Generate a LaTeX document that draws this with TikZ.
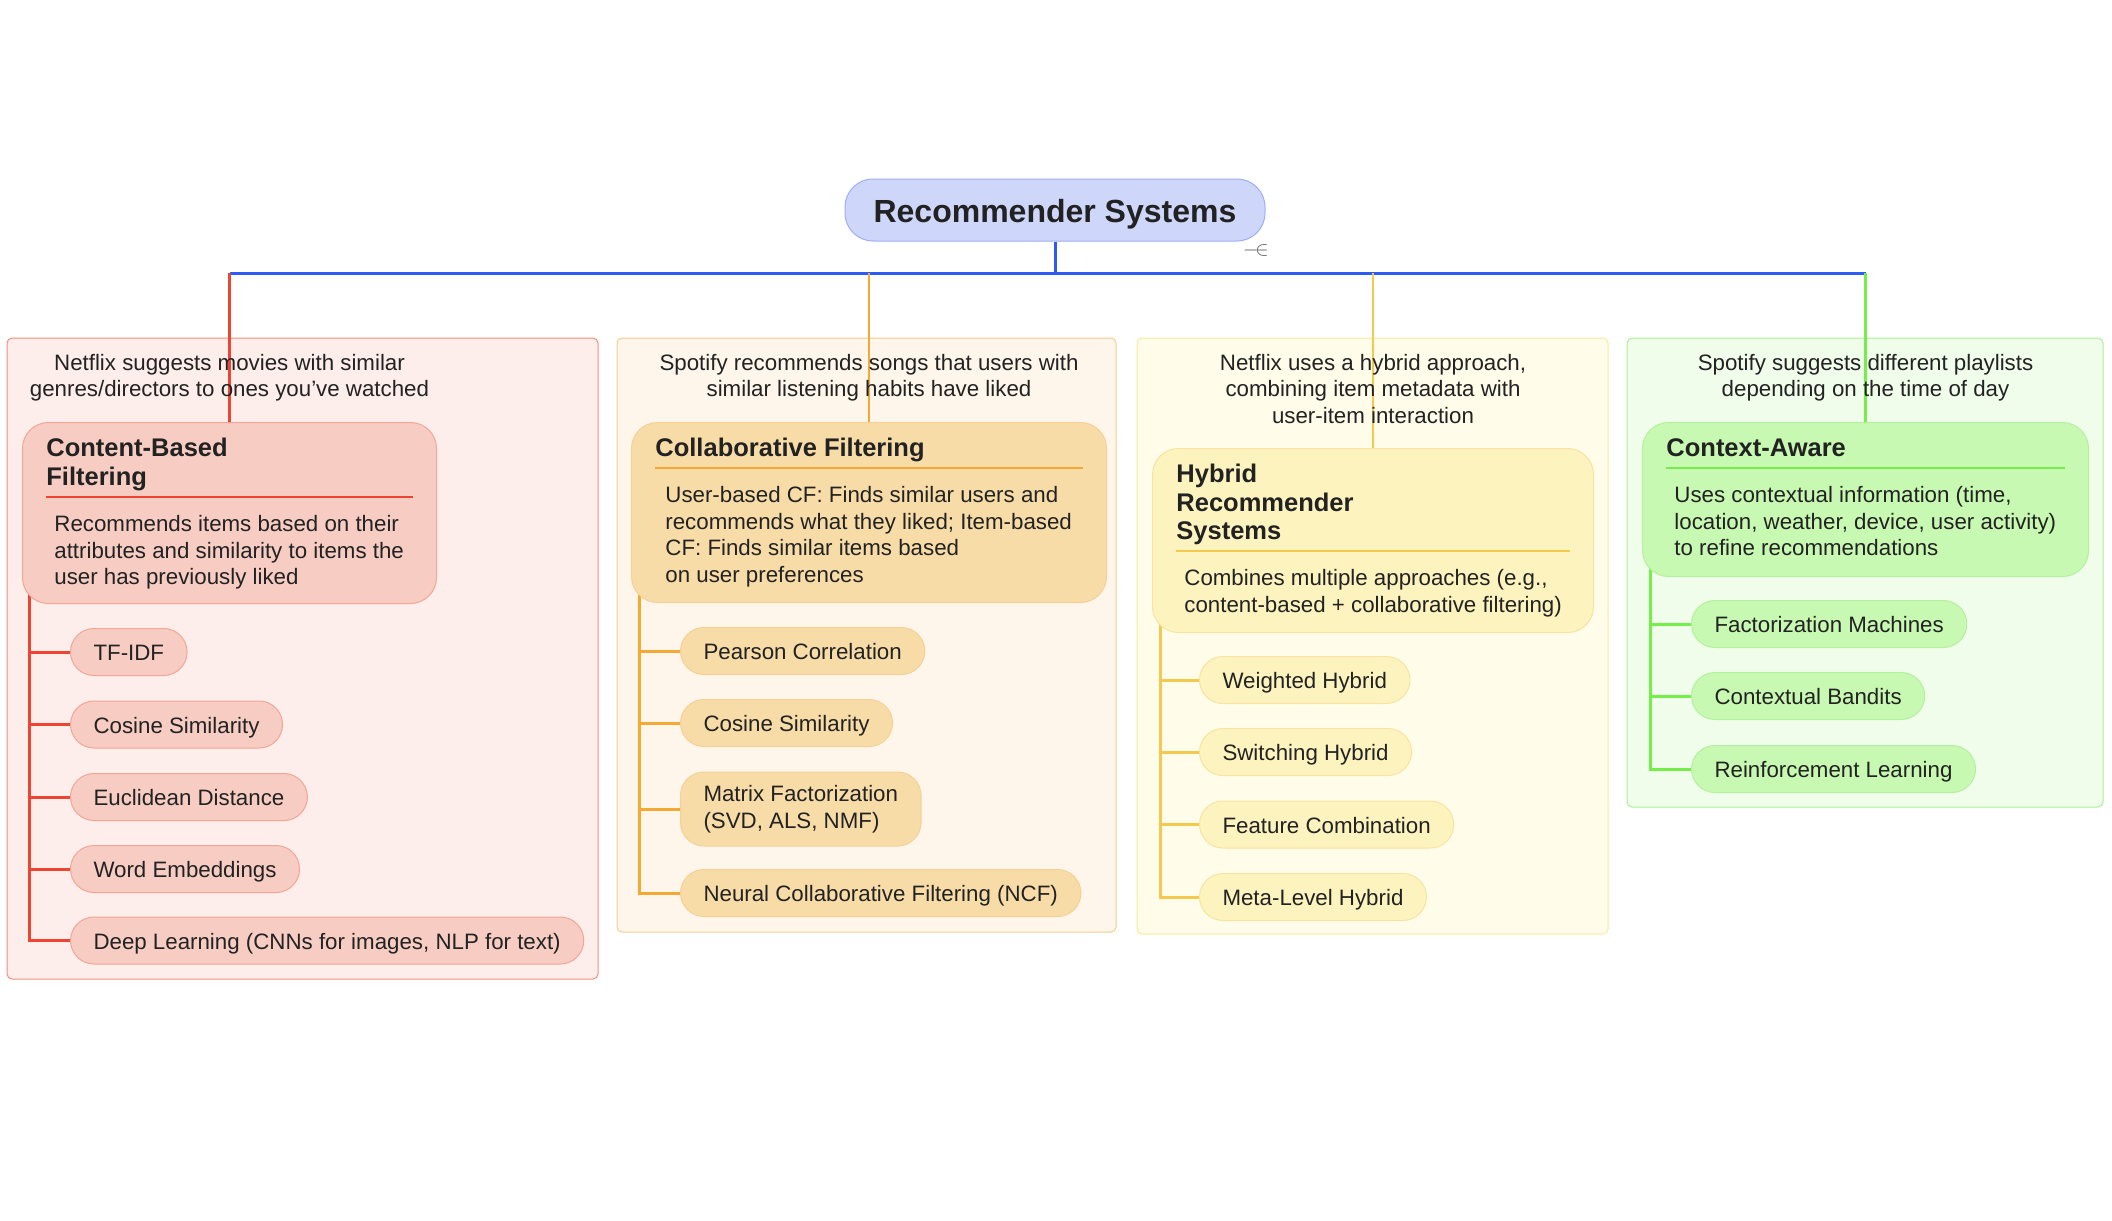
\documentclass[tikz,border=0pt]{standalone}
\usepackage{fontspec}
\setmainfont{Liberation Sans}
\usetikzlibrary{positioning}

\definecolor{ink}{HTML}{222222}
\definecolor{rootfill}{HTML}{CED7FA}
\definecolor{rootline}{HTML}{9DAEF5}
\definecolor{bluewire}{HTML}{2D5BF6}
\definecolor{redpanel}{HTML}{FDEEEB}
\definecolor{redpanelline}{HTML}{F2907E}
\definecolor{rednode}{HTML}{F7CDC3}
\definecolor{rednodeline}{HTML}{F4A595}
\definecolor{redwire}{HTML}{EE4530}
\definecolor{orangepanel}{HTML}{FEF6EA}
\definecolor{orangepanelline}{HTML}{F6CC8C}
\definecolor{orangenode}{HTML}{F8DCA8}
\definecolor{orangenodeline}{HTML}{F6D095}
\definecolor{orangewire}{HTML}{F5A832}
\definecolor{yellowpanel}{HTML}{FFFCEA}
\definecolor{yellowpanelline}{HTML}{FAE89C}
\definecolor{yellownode}{HTML}{FDF3BF}
\definecolor{yellownodeline}{HTML}{F8E4A0}
\definecolor{yellowwire}{HTML}{F5C84E}
\definecolor{greenpanel}{HTML}{F1FDEB}
\definecolor{greenpanelline}{HTML}{A9EF95}
\definecolor{greennode}{HTML}{C8F9B2}
\definecolor{greennodeline}{HTML}{B4F09E}
\definecolor{greenwire}{HTML}{74EE48}

\newcommand\txtbody{\fontsize{11.15pt}{13.3pt}\selectfont}
\newcommand\txttitle{\fontsize{12.75pt}{14.2pt}\selectfont\bfseries}
\newcommand\txtroot{\fontsize{16pt}{19pt}\selectfont\bfseries}

\pgfdeclarelayer{panel}
\pgfdeclarelayer{wire}
\pgfsetlayers{panel,wire,main}

\tikzset{
  panelbox/.style={draw=#1panelline, fill=#1panel, rounded corners=2.5pt, line width=0.5pt},
  catbox/.style={draw=#1nodeline, fill=#1node, rounded corners=13pt, line width=0.5pt, inner sep=0pt, anchor=north west},
  leafbox/.style={draw=#1nodeline, fill=#1node, rounded corners=11.75pt, line width=0.5pt,
    inner xsep=11.5pt, inner ysep=0pt, minimum height=23.5pt, anchor=west, align=left, font=\txtbody},
  oneline/.style={text height=10pt, text depth=1.4pt},
  wire/.style={draw=#1wire, line width=1.3pt},
  branch/.style={draw=#1wire, line width=1.5pt},
  sepline/.style={draw=#1wire, line width=0.9pt},
  note/.style={align=center, inner sep=0pt, font=\txtbody},
  cattitle/.style={anchor=north west, align=left, inner sep=0pt, font=\txttitle},
  catdesc/.style={anchor=north west, align=left, inner sep=0pt, font=\txtbody}
}

\begin{document}
\begin{tikzpicture}[x=0.5pt, y=-0.5pt, every node/.style={text=ink}]
	\useasboundingbox (0,0) rectangle (2112,1220);

	% Wurzel
	\node[draw=rootline, fill=rootfill, rounded corners=14pt, line width=0.5pt,
	  minimum width=210pt, minimum height=31pt, text height=12pt, text depth=0pt, font=\txtroot] (root) at (1055,210) {Recommender Systems};
	\node[text=black!65, inner sep=0pt, font=\fontsize{10pt}{11pt}\selectfont] (fold) at (1256,250) {$-\mkern-8mu\in$};
	\coordinate (hub) at (1055,273);

	% Kategorien
	\node[catbox=red, minimum width=207pt, minimum height=90.5pt] (cbf) at (22,422) {};
	\node[catbox=orange, minimum width=237.5pt, minimum height=90pt] (cf) at (631,422) {};
	\node[catbox=yellow, minimum width=220.5pt, minimum height=92pt] (hyb) at (1152,448) {};
	\node[catbox=green, minimum width=223pt, minimum height=77pt] (ctx) at (1642,422) {};

	% Titel
	\node[cattitle, below right=8pt and 12pt of cbf.north west] (cbft) {Content-Based\\Filtering};
	\node[cattitle, below right=8pt and 12pt of cf.north west] (cft) {Collaborative Filtering};
	\node[cattitle, below right=8pt and 12pt of hyb.north west] (hybt) {Hybrid\\Recommender\\Systems};
	\node[cattitle, below right=8pt and 12pt of ctx.north west] (ctxt) {Context-Aware};

	% Trennlinien
	\draw[sepline=red] ([xshift=12pt,yshift=-37.5pt]cbf.north west) -- ([xshift=-12pt,yshift=-37.5pt]cbf.north east);
	\draw[sepline=orange] ([xshift=12pt,yshift=-23pt]cf.north west) -- ([xshift=-12pt,yshift=-23pt]cf.north east);
	\draw[sepline=yellow] ([xshift=12pt,yshift=-51.5pt]hyb.north west) -- ([xshift=-12pt,yshift=-51.5pt]hyb.north east);
	\draw[sepline=green] ([xshift=12pt,yshift=-23pt]ctx.north west) -- ([xshift=-12pt,yshift=-23pt]ctx.north east);

	% Beschreibungen
	\node[catdesc, below right=46.5pt and 16pt of cbf.north west] (cbfd)
	  {Recommends items based on their\\attributes and similarity to items the\\user has previously liked};
	\node[catdesc, below right=32pt and 17pt of cf.north west] (cfd)
	  {User-based CF: Finds similar users and\\recommends what they liked; Item-based\\CF: Finds similar items based\\on user preferences};
	\node[catdesc, below right=60.5pt and 16pt of hyb.north west] (hybd)
	  {Combines multiple approaches (e.g.,\\content-based + collaborative filtering)};
	\node[catdesc, below right=32pt and 16pt of ctx.north west] (ctxd)
	  {Uses contextual information (time,\\location, weather, device, user activity)\\to refine recommendations};

	% Beispiele
	\node[note, above=10pt of cbf] (cbfn) {Netflix suggests movies with similar\\genres/directors to ones you’ve watched};
	\node[note, above=10pt of cf] (cfn) {Spotify recommends songs that users with\\similar listening habits have liked};
	\node[note, above=12pt of hyb] (hybn) {Netflix uses a hybrid approach,\\combining item metadata with\\user-item interaction};
	\node[note, above=10pt of ctx] (ctxn) {Spotify suggests different playlists\\depending on the time of day};

	% Blaetter
	\node[leafbox=red, oneline] (cb1) at (70,652) {TF-IDF};
	\node[leafbox=red, oneline] (cb2) at (70,724.5) {Cosine Similarity};
	\node[leafbox=red, oneline] (cb3) at (70,797) {Euclidean Distance};
	\node[leafbox=red, oneline] (cb4) at (70,869) {Word Embeddings};
	\node[leafbox=red, oneline] (cb5) at (70,940.5) {Deep Learning (CNNs for images, NLP for text)};

	\node[leafbox=orange, oneline] (cf1) at (680,651) {Pearson Correlation};
	\node[leafbox=orange, oneline] (cf2) at (680,723) {Cosine Similarity};
	\node[leafbox=orange, minimum height=37pt] (cf3) at (680,809) {Matrix Factorization\\(SVD, ALS, NMF)};
	\node[leafbox=orange, oneline] (cf4) at (680,893) {Neural Collaborative Filtering (NCF)};

	\node[leafbox=yellow, oneline] (hy1) at (1199,680) {Weighted Hybrid};
	\node[leafbox=yellow, oneline] (hy2) at (1199,752) {Switching Hybrid};
	\node[leafbox=yellow, oneline] (hy3) at (1199,824.5) {Feature Combination};
	\node[leafbox=yellow, oneline] (hy4) at (1199,897) {Meta-Level Hybrid};

	\node[leafbox=green, oneline] (cx1) at (1691,624) {Factorization Machines};
	\node[leafbox=green, oneline] (cx2) at (1691,696) {Contextual Bandits};
	\node[leafbox=green, oneline] (cx3) at (1691,769) {Reinforcement Learning};

	% Linien
	\begin{pgfonlayer}{wire}
		\draw[wire=blue, line width=1.5pt] (root) -- (hub);
		\draw[wire=blue, line width=1.5pt] (cbf.north |- hub) -- (ctx.north |- hub);
		\draw[wire=red] (cbf.north |- hub) -- (cbf.north);
		\draw[wire=orange] (cf.north |- hub) -- (cf.north);
		\draw[wire=yellow] (hyb.north |- hub) -- (hyb.north);
		\draw[wire=green] (ctx.north |- hub) -- (ctx.north);

		\coordinate (cbstem) at ([xshift=3.5pt,yshift=10pt]cbf.south west);
		\coordinate (cfstem) at ([xshift=4.25pt,yshift=10pt]cf.south west);
		\coordinate (hystem) at ([xshift=4pt,yshift=10pt]hyb.south west);
		\coordinate (cxstem) at ([xshift=4pt,yshift=10pt]ctx.south west);

		\draw[branch=red] (cbstem) |- (cb1.west);
		\draw[branch=red] (cbstem) |- (cb2.west);
		\draw[branch=red] (cbstem) |- (cb3.west);
		\draw[branch=red] (cbstem) |- (cb4.west);
		\draw[branch=red] (cbstem) |- (cb5.west);

		\draw[branch=orange] (cfstem) |- (cf1.west);
		\draw[branch=orange] (cfstem) |- (cf2.west);
		\draw[branch=orange] (cfstem) |- (cf3.west);
		\draw[branch=orange] (cfstem) |- (cf4.west);

		\draw[branch=yellow] (hystem) |- (hy1.west);
		\draw[branch=yellow] (hystem) |- (hy2.west);
		\draw[branch=yellow] (hystem) |- (hy3.west);
		\draw[branch=yellow] (hystem) |- (hy4.west);

		\draw[branch=green] (cxstem) |- (cx1.west);
		\draw[branch=green] (cxstem) |- (cx2.west);
		\draw[branch=green] (cxstem) |- (cx3.west);
	\end{pgfonlayer}

	% Gruppen
	\begin{pgfonlayer}{panel}
		\draw[panelbox=red] (7,338) rectangle (598,979);
		\draw[panelbox=orange] (617,338) rectangle (1116,932);
		\draw[panelbox=yellow] (1137,338) rectangle (1608,934);
		\draw[panelbox=green] (1627,338) rectangle (2103,807);
	\end{pgfonlayer}
\end{tikzpicture}
\end{document}
